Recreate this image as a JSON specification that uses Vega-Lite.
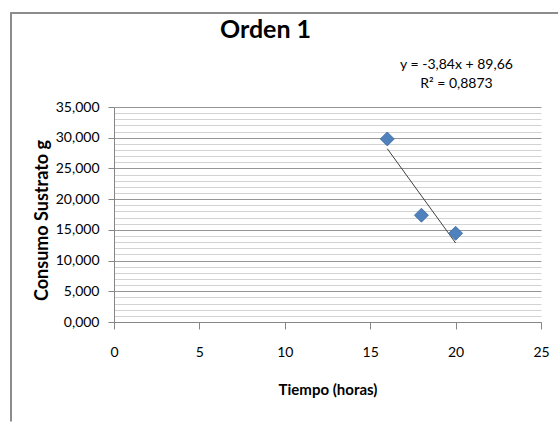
{
  "$schema": "https://vega.github.io/schema/vega-lite/v6.json",
  "width": 427,
  "height": 215,
  "autosize": {"type": "none"},
  "padding": {"left": 114, "top": 107, "right": 18, "bottom": 100},
  "background": "white",
  "config": {
    "view": {"stroke": null},
    "font": "Lato",
    "axis": {
      "labelFont": "Lato",
      "titleFont": "Lato",
      "labelColor": "#000000",
      "titleColor": "#000000",
      "domainColor": "#868686",
      "tickColor": "#868686"
    }
  },
  "title": {
    "text": "Orden 1",
    "font": "Lato",
    "fontSize": 25,
    "fontWeight": "bold",
    "color": "#000000",
    "anchor": "middle",
    "dx": -62,
    "offset": -31
  },
  "data": {
    "values": [
      {"tiempo": 16, "consumo": 29.8},
      {"tiempo": 18, "consumo": 17.38},
      {"tiempo": 20, "consumo": 14.44}
    ]
  },
  "layer": [
    {
      "data": {"values": [{}]},
      "mark": {"type": "rule", "stroke": "#8c8c8c", "strokeWidth": 2, "clip": false},
      "encoding": {
        "x": {"datum": -6.03, "type": "quantitative"},
        "y": {"datum": 50.35, "type": "quantitative", "axis": null},
        "y2": {"datum": -16.2}
      }
    },
    {
      "data": {"values": [{}]},
      "mark": {"type": "rule", "stroke": "#8c8c8c", "strokeWidth": 2, "clip": false},
      "encoding": {
        "x": {"datum": -6.08, "type": "quantitative"},
        "x2": {"datum": 26.0},
        "y": {"datum": 50.3, "type": "quantitative", "axis": null}
      }
    },
    {
      "mark": {"type": "point", "opacity": 0},
      "encoding": {
        "x": {"field": "tiempo", "type": "quantitative"},
        "y": {
          "field": "consumo",
          "type": "quantitative",
          "scale": {"domain": [0, 35], "nice": false, "zero": true},
          "axis": {
            "values": [1, 2, 3, 4, 6, 7, 8, 9, 11, 12, 13, 14, 16, 17, 18, 19, 21, 22, 23, 24, 26, 27, 28, 29, 31, 32, 33, 34],
            "grid": true,
            "gridColor": "#d3d3d3",
            "gridWidth": 1,
            "domain": false,
            "ticks": false,
            "labels": false,
            "title": null,
            "orient": "left"
          }
        }
      }
    },
    {
      "mark": {"type": "line", "color": "#404040", "strokeWidth": 1},
      "transform": [{"regression": "consumo", "on": "tiempo"}],
      "encoding": {
        "x": {
          "field": "tiempo",
          "type": "quantitative",
          "scale": {"domain": [0, 25], "nice": false},
          "axis": {
            "values": [0, 5, 10, 15, 20, 25],
            "grid": false,
            "labelFlush": false,
            "domainColor": "#868686",
            "tickSize": 7,
            "labelFontSize": 14,
            "labelPadding": 16,
            "title": "Tiempo (horas)",
            "titleFontSize": 15,
            "titleFontWeight": "bold",
            "titlePadding": 23
          }
        },
        "y": {
          "field": "consumo",
          "type": "quantitative",
          "axis": {
            "values": [0, 5, 10, 15, 20, 25, 30, 35],
            "grid": true,
            "gridColor": "#969696",
            "labelExpr": "replace(format(datum.value, '.3f'), '.', ',')",
            "labelFontSize": 14,
            "labelPadding": 9,
            "tickSize": 6,
            "title": "Consumo Sustrato g",
            "titleFontSize": 18,
            "titleFontWeight": "bold",
            "titlePadding": 4,
            "titleY": 113,
            "orient": "left"
          }
        }
      }
    },
    {
      "mark": {"type": "point", "shape": "diamond", "filled": true, "size": 196, "color": "#4F81BD", "stroke": "#3B6AA0", "strokeWidth": 0.8, "opacity": 1},
      "encoding": {
        "x": {"field": "tiempo", "type": "quantitative"},
        "y": {"field": "consumo", "type": "quantitative", "axis": null}
      }
    },
    {
      "data": {"values": [{}]},
      "mark": {"type": "text", "text": "y = -3,84x + 89,66", "font": "Lato", "fontWeight": "normal", "fontSize": 14, "color": "#000000", "align": "center", "baseline": "middle", "clip": false},
      "encoding": {
        "x": {"datum": 20.05, "type": "quantitative"},
        "y": {"datum": 41.8, "type": "quantitative", "axis": null}
      }
    },
    {
      "data": {"values": [{}]},
      "mark": {"type": "text", "text": "R² = 0,8873", "font": "Lato", "fontWeight": "normal", "fontSize": 14, "color": "#000000", "align": "center", "baseline": "middle", "clip": false},
      "encoding": {
        "x": {"datum": 20.05, "type": "quantitative"},
        "y": {"datum": 38.7, "type": "quantitative", "axis": null}
      }
    }
  ],
  "resolve": {"axis": {"y": "independent"}}
}
